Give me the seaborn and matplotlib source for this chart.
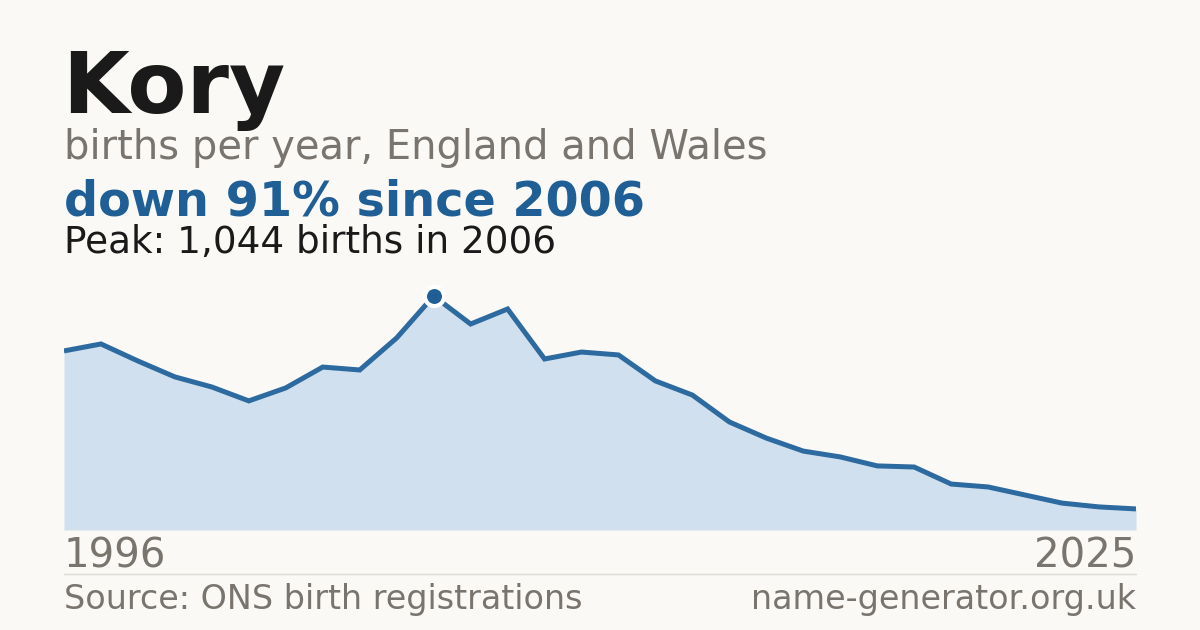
import numpy as np
import pandas as pd
import matplotlib
matplotlib.use("Agg")
import matplotlib.pyplot as plt
import seaborn as sns

years = list(range(1996, 2026))
births = [799, 830, 754, 683, 638, 576, 634, 727, 714, 857,
          1044, 919, 986, 763, 794, 781, 665, 602, 482, 410,
          352, 326, 286, 281, 205, 192, 156, 120, 103, 94]

title = "Kory"
subtitle = "births per year, England and Wales"
headline = "down 91% since 2006"
peak_text = "Peak: 1,044 births in 2006"
source = "Source: ONS birth registrations"
site = "name-generator.org.uk"

BG = "#faf9f5"
BLUE = "#1f5f95"
LINE = "#2d6a9f"
FILL = "#d0e0ef"
GRAY = "#79746e"
DARK = "#1a1a1a"

sns.set_style("white")
plt.rcParams["font.family"] = ["DejaVu Sans"]

df = pd.DataFrame({"year": years, "births": births})

W, H = 1200, 630
fig = plt.figure(figsize=(12, 6.3), dpi=100, facecolor=BG)

def fx(px):
    return px / W

def fy(py):
    return 1 - py / H

ax = fig.add_axes([fx(64), fy(530), fx(1136 - 64), (530 - 296) / H])
ax.set_facecolor(BG)
ax.fill_between(df["year"], df["births"], 0, color=FILL, lw=0)
sns.lineplot(data=df, x="year", y="births", ax=ax, color=LINE, lw=3.6,
             solid_joinstyle="miter", solid_capstyle="butt")
# peak marker
peak = df.loc[df["births"].idxmax()]
ax.scatter([peak["year"]], [peak["births"]], s=190, marker="o", color=BLUE,
           edgecolor="white", linewidth=3, zorder=5, clip_on=False)
ax.axhline(0, color="#e2ded8", lw=1)
ax.set_xlim(years[0], years[-1])
ax.set_ylim(0, max(births))
ax.set_axis_off()

fig.text(fx(62), fy(113), title, fontsize=62, fontweight="bold", color=DARK, va="baseline")
fig.text(fx(64), fy(159), subtitle, fontsize=28.8, color=GRAY, va="baseline")
fig.text(fx(64), fy(215), headline, fontsize=34.4, fontweight="bold", color=BLUE, va="baseline")
fig.text(fx(64), fy(253), peak_text, fontsize=26.9, color=DARK, va="baseline")

fig.text(fx(64), fy(568), str(years[0]), fontsize=29, color=GRAY, va="baseline")
fig.text(fx(1136), fy(568), str(years[-1]), fontsize=29, color=GRAY, va="baseline", ha="right")

fig.add_artist(plt.Line2D([fx(64), fx(1136)], [fy(574), fy(574)], color="#dedad4", lw=1))

fig.text(fx(64), fy(609), source, fontsize=24, color=GRAY, va="baseline")
fig.text(fx(1136), fy(609), site, fontsize=24, color=GRAY, va="baseline", ha="right")

fig.savefig("out.png", dpi=100, facecolor=BG)
